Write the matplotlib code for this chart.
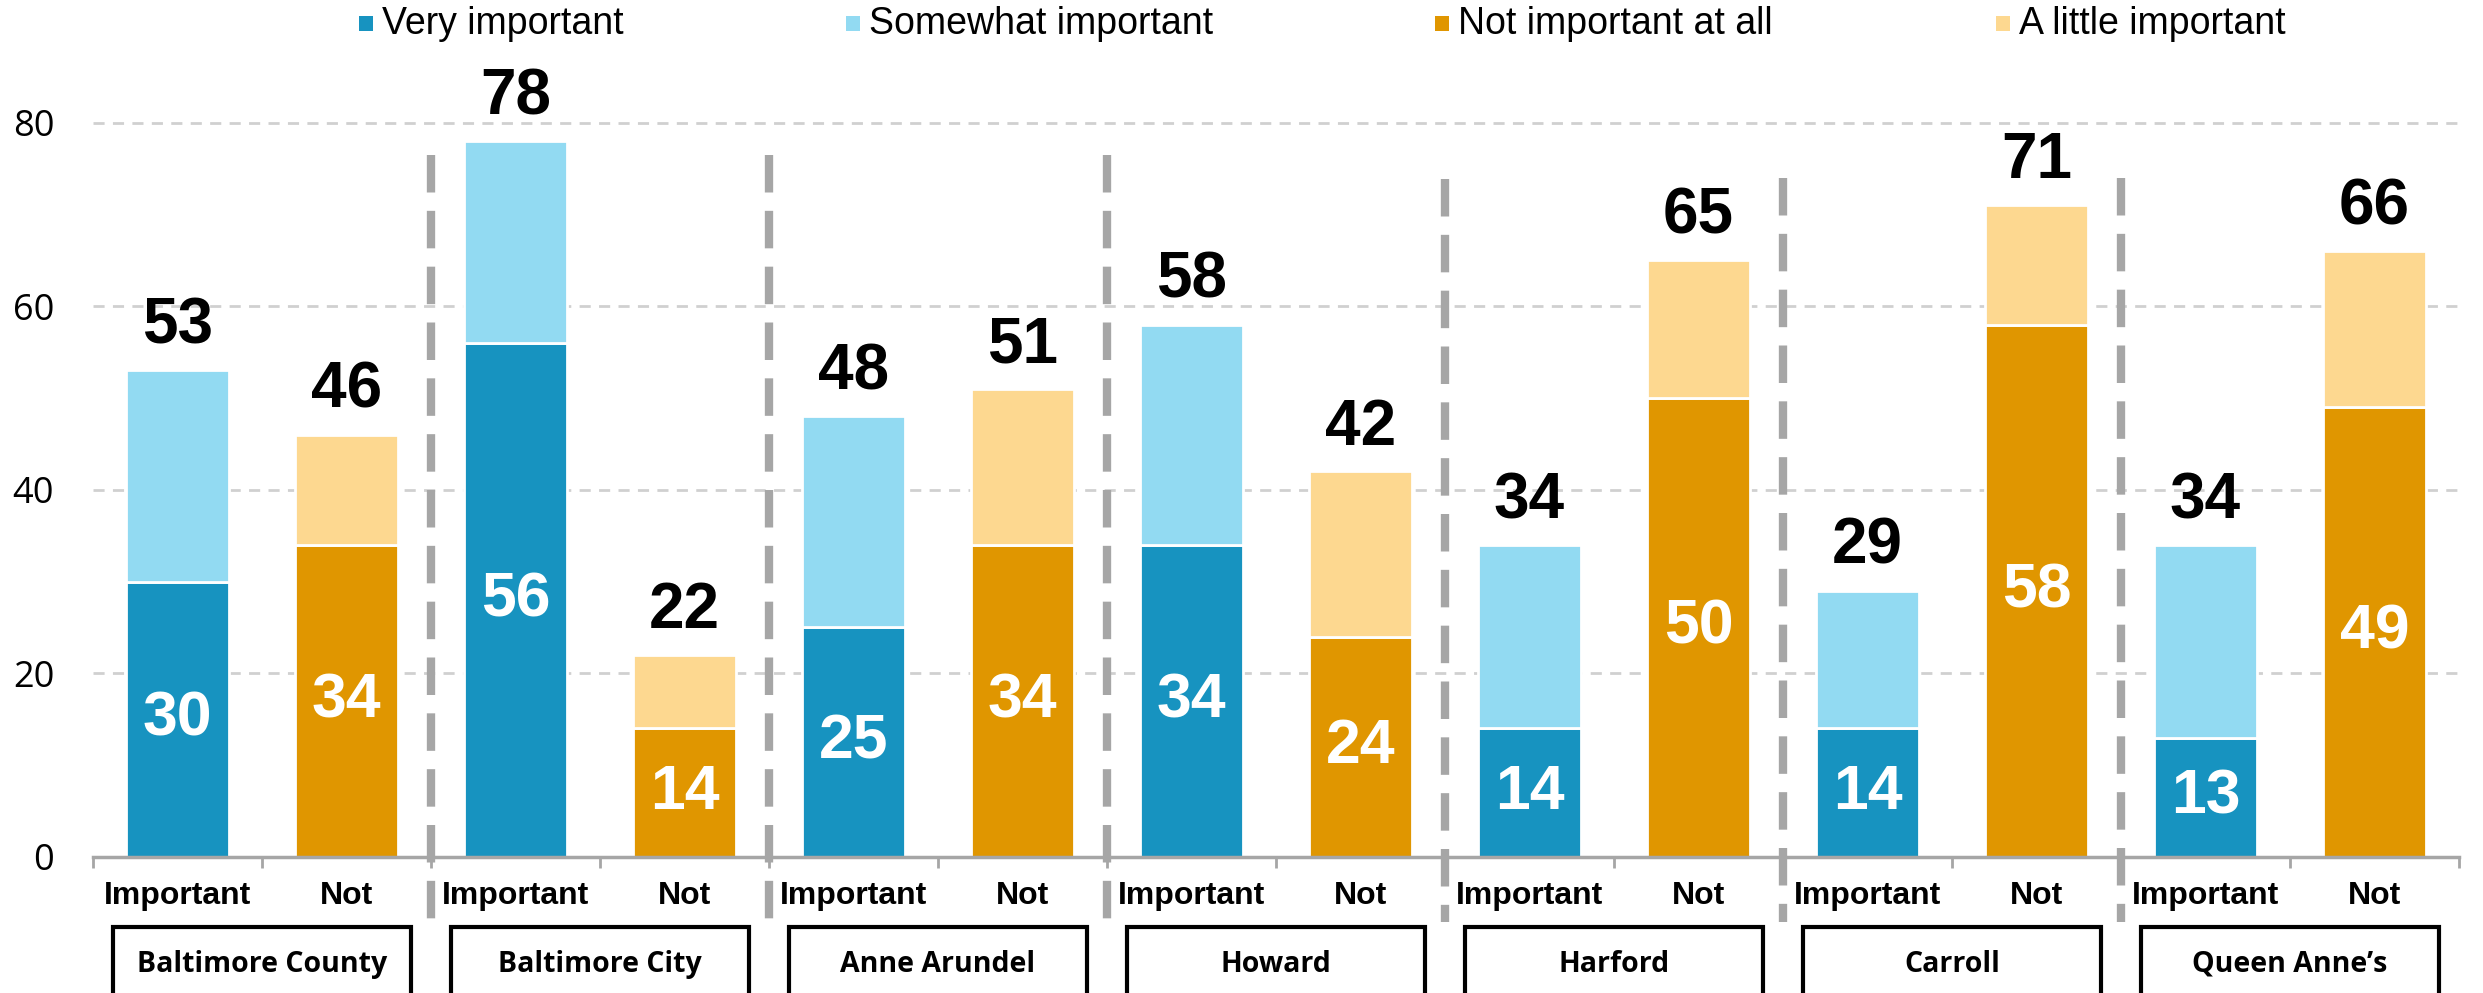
import numpy as np
import matplotlib
matplotlib.use('Agg')
import matplotlib.pyplot as plt
from matplotlib.patches import Rectangle

plt.rcParams['font.family'] = ['Liberation Sans', 'DejaVu Sans']

# Data
counties = ['Baltimore County', 'Baltimore City', 'Anne Arundel', 'Howard',
            'Harford', 'Carroll', "Queen Anne\u2019s"]
very_important = [30, 56, 25, 34, 14, 14, 13]
important_total = [53, 78, 48, 58, 34, 29, 34]
not_at_all = [34, 14, 34, 24, 50, 58, 49]
not_total = [46, 22, 51, 42, 65, 71, 66]
somewhat = [t - v for t, v in zip(important_total, very_important)]
a_little = [t - v for t, v in zip(not_total, not_at_all)]
bar_labels = ['Important', 'Not']
y_ticks = [0, 20, 40, 60, 80]
legend_labels = ['Very important', 'Somewhat important', 'Not important at all', 'A little important']

c_very = '#1793C0'
c_some = '#92DAF2'
c_notall = '#E09600'
c_little = '#FDD890'
colors = [c_very, c_some, c_notall, c_little]

fig = plt.figure(figsize=(24.83, 9.93), dpi=100)
ax = fig.add_axes([0.0375, 0.137, 0.9528, 0.832])

n = len(counties)
x_imp = np.arange(n) * 2
x_not = x_imp + 1
w = 0.61

ax.bar(x_imp, very_important, w, color=c_very, edgecolor='white', linewidth=2)
ax.bar(x_imp, somewhat, w, bottom=very_important, color=c_some, edgecolor='white', linewidth=2)
ax.bar(x_not, not_at_all, w, color=c_notall, edgecolor='white', linewidth=2)
ax.bar(x_not, a_little, w, bottom=not_at_all, color=c_little, edgecolor='white', linewidth=2)

for i in range(n):
    ax.text(x_imp[i], very_important[i] / 2, str(very_important[i]), ha='center', va='center',
            color='white', fontsize=45, fontweight='bold')
    ax.text(x_not[i], not_at_all[i] / 2, str(not_at_all[i]), ha='center', va='center',
            color='white', fontsize=45, fontweight='bold')
    ax.text(x_imp[i], important_total[i] + 1.5, str(important_total[i]), ha='center', va='bottom',
            color='black', fontsize=46, fontweight='bold', clip_on=False)
    ax.text(x_not[i], not_total[i] + 1.5, str(not_total[i]), ha='center', va='bottom',
            color='black', fontsize=46, fontweight='bold', clip_on=False)

ax.set_xlim(-0.5, 2 * n - 0.5)
ax.set_ylim(0, 90)
ax.set_yticks(y_ticks)
ax.set_yticklabels([str(v) for v in y_ticks], fontsize=26, family=['Open Sans', 'DejaVu Sans'])
ax.tick_params(axis='y', length=0, pad=28)
ax.yaxis.grid(True, linestyle=(0, (4, 3)), color='#D0D0D0', linewidth=2)
ax.set_axisbelow(True)

ax.set_xticks(np.arange(2 * n))
ax.set_xticklabels(bar_labels * n, fontsize=23, fontweight='bold')
ax.tick_params(axis='x', length=0, pad=17)
ax.set_xticks(np.arange(2 * n + 1) - 0.5, minor=True)
ax.tick_params(axis='x', which='minor', length=8, width=2, color='#A6A6A6', direction='out')

for s in ['top', 'right', 'left']:
    ax.spines[s].set_visible(False)
ax.spines['bottom'].set_color('#A6A6A6')
ax.spines['bottom'].set_linewidth(2.5)

# group separators
sep_tops = [76.5, 76.5, 76.5, 73.8, 74.0, 74.0]
for k, top in enumerate(sep_tops):
    xs = 2 * (k + 1) - 0.5
    ax.plot([xs, xs], [top, -7.1], color='#A6A6A6', linewidth=6,
            linestyle=(0, (4.5, 2.2)), clip_on=False, zorder=1)

# county boxes
for i, name in enumerate(counties):
    x0, x1 = 2 * i - 0.38, 2 * i + 1.38
    r = Rectangle((x0, -16.0), x1 - x0, 8.4, fill=False,
                  edgecolor='black', linewidth=3, clip_on=False)
    ax.add_patch(r)
    ax.text(2 * i + 0.5, -11.7, name, ha='center', va='center', fontsize=20.5,
            fontweight='bold', family=['Open Sans', 'DejaVu Sans'], clip_on=False)

# legend drawn by hand
leg_x = [0.1474, 0.3436, 0.5807, 0.8067]
for xl, lab, col in zip(leg_x, legend_labels, colors):
    fig.patches.append(Rectangle((xl - 0.0027, 0.976 - 0.0075), 0.0054, 0.015,
                                 transform=fig.transFigure, facecolor=col, edgecolor='none'))
    fig.text(xl + 0.0065, 0.976, lab, ha='left', va='center', fontsize=27)

fig.savefig('out.png', dpi=100)
